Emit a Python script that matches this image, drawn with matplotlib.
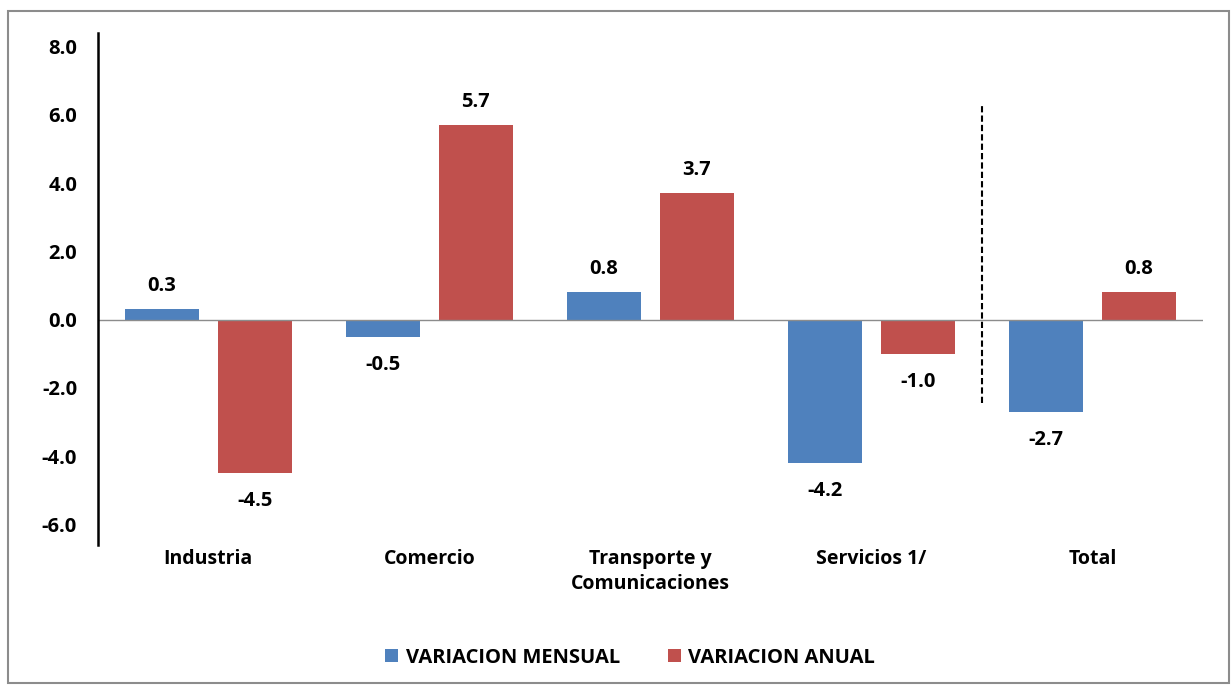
import matplotlib.pyplot as plt
import numpy as np
from matplotlib.patches import Rectangle

plt.rcParams['font.family'] = ['Open Sans', 'DejaVu Sans']
plt.rcParams['font.weight'] = 'bold'

categorias = ['Industria', 'Comercio', 'Transporte y\nComunicaciones', 'Servicios 1/', 'Total']
mensual = [0.3, -0.5, 0.8, -4.2, -2.7]
anual = [-4.5, 5.7, 3.7, -1.0, 0.8]
yticks = [-6, -4, -2, 0, 2, 4, 6, 8]

azul = '#4F81BD'
rojo = '#C0504D'

fig = plt.figure(figsize=(12.31, 6.85), dpi=100)
ax = fig.add_axes([0.0795, 0.2044, 0.8977, 0.7474])

# marco gris de la figura
fig.patches.append(Rectangle((8 / 1231, 0.003), 1 - 10 / 1231, 1 - 11 / 685 - 0.003,
                             transform=fig.transFigure, fill=False,
                             edgecolor='#8c8c8c', linewidth=1.5))

x = np.arange(len(categorias))
w = 0.335
off = 0.21
b1 = ax.bar(x - off, mensual, w, color=azul, label='VARIACION MENSUAL')
b2 = ax.bar(x + off, anual, w, color=rojo, label='VARIACION ANUAL')

for bars, vals in ((b1, mensual), (b2, anual)):
    for b, v in zip(bars, vals):
        dy = 17 if v >= 0 else -20
        ax.annotate(f'{v:.1f}', (b.get_x() + b.get_width() / 2, v),
                    xytext=(0, dy), textcoords='offset points',
                    ha='center', va='center', fontsize=14.5, fontweight='bold')

ax.axhline(0, color='#8c8c8c', linewidth=1)
ax.plot([3.5, 3.5], [-2.45, 6.35], color='black', linestyle=(0, (3, 1.5)), linewidth=1.5)

ax.set_xlim(-0.5, 4.5)
ax.set_ylim(-6.6, 8.4)
ax.set_yticks(yticks)
ax.set_yticklabels([f'{t:.1f}' for t in yticks], fontsize=14.5, fontweight='bold')
ax.set_xticks(x)
ax.set_xticklabels(categorias, fontsize=14, fontweight='bold', linespacing=1.35)
ax.tick_params(axis='y', length=0, pad=15)
ax.tick_params(axis='x', length=0, pad=3)
for s in ['top', 'right', 'bottom']:
    ax.spines[s].set_visible(False)
ax.spines['left'].set_linewidth(1.8)

fig.legend(handles=[b1, b2], loc='center', bbox_to_anchor=(0.512, 0.04), ncol=2,
           frameon=False, fontsize=14.5, handlelength=0.65, handleheight=0.65,
           handletextpad=0.35, columnspacing=2.4)

fig.savefig('out.png', dpi=100)
